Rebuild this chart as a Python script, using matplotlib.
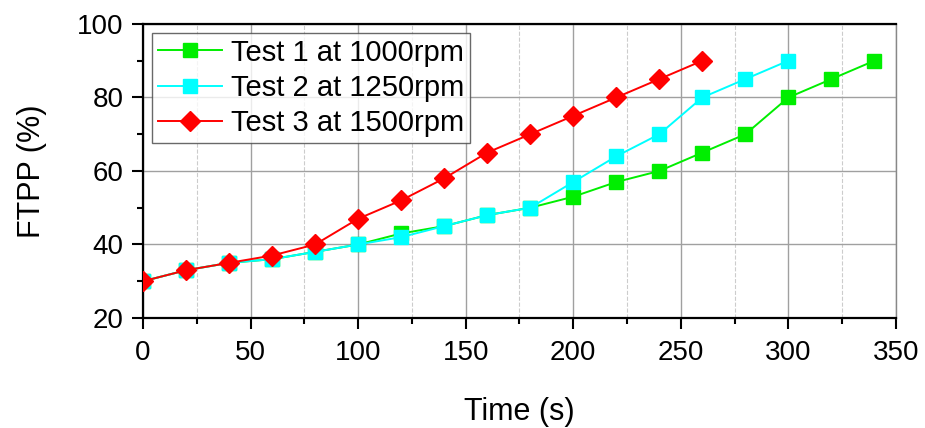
import numpy as np
import matplotlib
matplotlib.use('Agg')
import matplotlib.pyplot as plt
from matplotlib.ticker import MultipleLocator

plt.rcParams['font.family'] = ['Liberation Sans', 'DejaVu Sans']

# FTPP readings taken every 20 s for the three spindle speeds
t1 = [0, 20, 40, 60, 80, 100, 120, 140, 160, 180, 200, 220, 240, 260, 280, 300, 320, 340]
ftpp1 = [30, 33, 35, 36, 38, 40, 43, 45, 48, 50, 53, 57, 60, 65, 70, 80, 85, 90]

t2 = [0, 20, 40, 60, 80, 100, 120, 140, 160, 180, 200, 220, 240, 260, 280, 300]
ftpp2 = [30, 33, 35, 36, 38, 40, 42, 45, 48, 50, 57, 64, 70, 80, 85, 90]

t3 = [0, 20, 40, 60, 80, 100, 120, 140, 160, 180, 200, 220, 240, 260]
ftpp3 = [30, 33, 35, 37, 40, 47, 52, 58, 65, 70, 75, 80, 85, 90]

labels = ['Test 1 at 1000rpm', 'Test 2 at 1250rpm', 'Test 3 at 1500rpm']

fig = plt.figure(figsize=(9.25, 4.28), dpi=100)
ax = fig.add_axes([0.1546, 0.257, 0.814, 0.687])

ax.plot(t1, ftpp1, color='#00ee00', marker='s', markersize=9.5,
        linewidth=1.4, label=labels[0], zorder=3)
ax.plot(t2, ftpp2, color='#00ffff', marker='s', markersize=9.5,
        linewidth=1.4, label=labels[1], zorder=4)
ax.plot(t3, ftpp3, color='#ff0000', marker='D', markersize=10,
        linewidth=1.4, label=labels[2], zorder=5)

ax.set_xlim(0, 350)
ax.set_ylim(20, 100)
ax.xaxis.set_major_locator(MultipleLocator(50))
ax.xaxis.set_minor_locator(MultipleLocator(25))
ax.yaxis.set_major_locator(MultipleLocator(20))
ax.yaxis.set_minor_locator(MultipleLocator(10))

ax.grid(which='major', color='#a0a0a0', linewidth=1.0, linestyle='-')
ax.grid(which='minor', axis='x', color='#cccccc', linewidth=0.8, linestyle='--')
ax.set_axisbelow(True)

ax.tick_params(which='major', direction='out', length=8, width=1.5,
               labelsize=20, pad=6)
ax.tick_params(axis='x', which='major', pad=8)
ax.tick_params(which='minor', direction='out', length=4.5, width=1.5)
for side in ['left', 'bottom', 'top']:
    ax.spines[side].set_linewidth(1.6)
ax.spines['right'].set_linewidth(1.0)
ax.spines['right'].set_color('#888888')

ax.set_xlabel('Time (s)', fontsize=22, labelpad=22)
ax.set_ylabel('FTPP (%)', fontsize=22, labelpad=22)

leg = ax.legend(loc='upper left', fontsize=21, frameon=True, fancybox=False,
                edgecolor='#444444', handlelength=2.2, borderaxespad=0.3,
                borderpad=0.2, labelspacing=0.25, handletextpad=0.3)
leg.get_frame().set_linewidth(1.0)

plt.savefig('out.png', dpi=100)
